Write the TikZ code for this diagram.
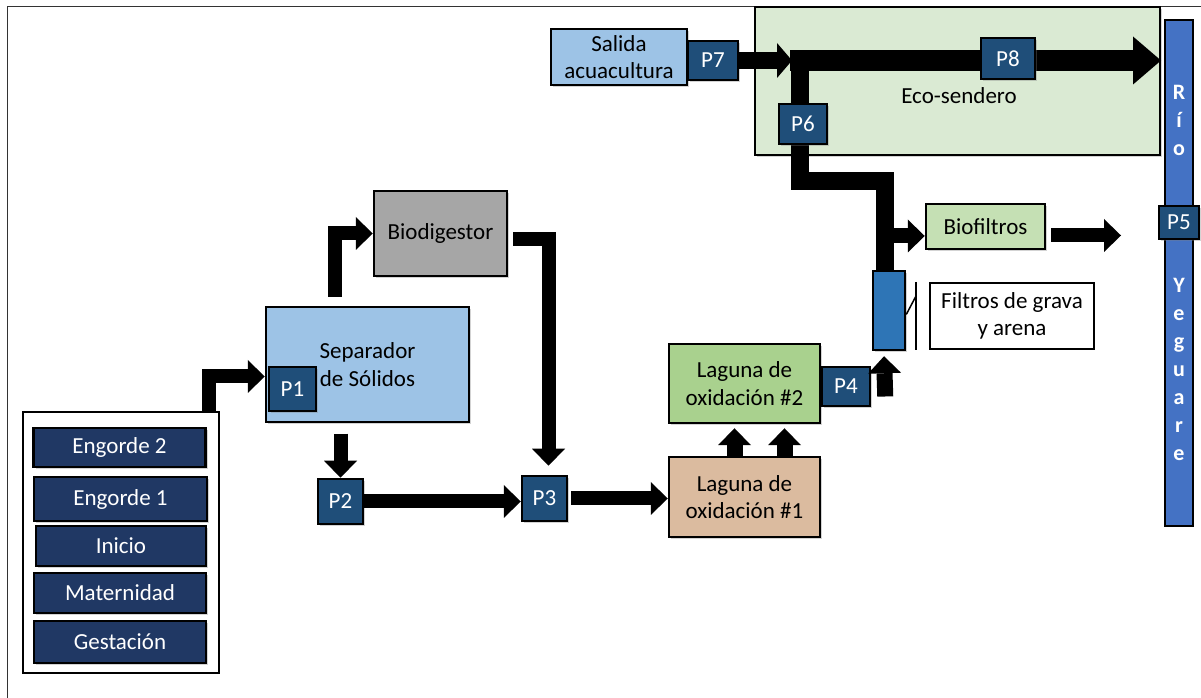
\documentclass[tikz,border=0pt]{standalone}
\usepackage{fontspec}
\setmainfont{Carlito}
\usetikzlibrary{arrows.meta,shadows}

\definecolor{navy}{HTML}{203864}
\definecolor{pazul}{HTML}{1F4E79}
\definecolor{celeste}{HTML}{9DC3E6}
\definecolor{gris}{HTML}{A6A6A6}
\definecolor{verde}{HTML}{A9D18E}
\definecolor{verdeclaro}{HTML}{C5E0B4}
\definecolor{verdeeco}{HTML}{DAEAD3}
\definecolor{cafe}{HTML}{DBBB9F}
\definecolor{azulfiltro}{HTML}{2E75B6}
\definecolor{azulrio}{HTML}{4472C4}

\begin{document}
\begin{tikzpicture}[x=1pt,y=1pt,
  every node/.style={font=\fontsize{23}{27.5}\selectfont,inner sep=0pt},
  caja/.style={draw,line width=2.5pt,align=center,drop shadow={shadow xshift=2pt,shadow yshift=-2pt,opacity=0.35}},
  etapa/.style={caja,fill=navy,text=white,minimum width=172pt},
  punto/.style={caja,fill=pazul,text=white},
  rioletra/.style={text=white,align=center,font=\bfseries\fontsize{22}{28}\selectfont},
  flecha/.style={line width=14pt,line join=miter,-{Triangle[length=17pt,width=33pt,line width=0pt]}},
  flechaM/.style={line width=17pt,-{Triangle[length=15pt,width=35pt,line width=0pt]}},
  flechaG/.style={line width=21pt,-{Triangle[length=28pt,width=48pt,line width=0pt]}},
  tubo/.style={line width=18pt,line join=miter}]
\useasboundingbox (0,0) rectangle (1201,698);
\draw[line width=1pt,black!80] (7,691) rectangle (1230,-30);

% zona eco-sendero y rio
\node[caja,fill=verdeeco,line width=2pt,minimum width=405pt,minimum height=148pt] (eco) at (957.5,617) {};
\node (ecotxt) at (959,602) {Eco-sendero};
\node[draw,line width=2pt,fill=azulrio,minimum width=28pt,minimum height=506pt] (rio) at (1179,425) {};
\node[rioletra] (rioA) at (1179,578) {R\\í\\o};
\node[rioletra] (rioB) at (1179,329) {Y\\e\\g\\u\\a\\r\\e};
\node[punto,minimum width=40pt,minimum height=33pt] (P5) at (1179,475.5) {P5};

% granja
\node[draw,line width=2pt,minimum width=196pt,minimum height=261pt] (granja) at (121,155.5) {};
\node[etapa,minimum height=39pt] (eng2) at (119.5,250.5) {Engorde 2};
\node[etapa,minimum width=173pt,minimum height=44pt] (eng1) at (120.5,199) {Engorde 1};
\node[etapa,minimum width=170pt,minimum height=40pt] (inicio) at (121,152) {Inicio};
\node[etapa,minimum height=40pt] (mater) at (120,105) {Maternidad};
\node[etapa,minimum height=42pt] (gesta) at (120,56) {Gestación};

% tratamiento
\node[caja,fill=celeste,minimum width=203pt,minimum height=115pt] (sep) at (367.5,333.5) {Separador\\de Sólidos};
\node[punto,minimum width=47pt,minimum height=44pt] (P1) at (292.5,309) {P1};
\node[caja,fill=gris,minimum width=133pt,minimum height=85pt] (bio) at (440.5,464.5) {Biodigestor};
\node[punto,minimum width=45pt,minimum height=45pt] (P2) at (340.5,196.5) {P2};
\node[punto,minimum width=45pt,minimum height=45pt] (P3) at (544.5,199.5) {P3};
\node[caja,fill=cafe,minimum width=151pt,minimum height=80pt] (lag1) at (744.5,201) {Laguna de\\oxidación \#1};
\node[caja,fill=verde,minimum width=151pt,minimum height=79pt] (lag2) at (744.5,314.5) {Laguna de\\oxidación \#2};
\node[punto,minimum width=48pt,minimum height=39pt] (P4) at (846,311.5) {P4};
\node[caja,fill=azulfiltro,minimum width=32pt,minimum height=79pt] (filtro) at (889,387.5) {};
\node[draw,line width=2pt,align=center,minimum width=164pt,minimum height=66pt] (filtxt) at (1012,382) {Filtros de grava\\y arena};
\node[caja,fill=verdeclaro,minimum width=119pt,minimum height=45pt] (biof) at (985.5,471.5) {Biofiltros};
\node[caja,fill=celeste,minimum width=136pt,minimum height=56pt] (salida) at (619,641) {Salida\\acuacultura};
\node[punto,minimum width=50pt,minimum height=39pt] (P7) at (713,637.5) {P7};

\coordinate (cruce) at (800,637.5);
\coordinate (codo) at (885,517);
\coordinate (rama) at (885,462);
\coordinate (haciaRio) at (1121,462.5);

% flujos
\draw[flecha] ([xshift=-11pt]granja.north east) |- ([yshift=-12pt]sep.west);
\draw[flecha] ([shift={(-33pt,9pt)}]sep.north) |- (bio.west);
\draw[flecha] ([yshift=44pt]P2.north) -- (P2.north);
\draw[flecha] (P2.east) -- (P2.east -| P3.west);
\draw[flecha] ([shift={(5pt,-6pt)}]bio.east) -| ([shift={(4pt,9pt)}]P3.north);
\draw[flecha] ([xshift=3pt]P3.east) -- (P3.east -| lag1.west);
\draw[flecha,line width=16pt] ([xshift=-10pt]lag1.north) -- ([xshift=-10pt,yshift=-4pt]lag2.south);
\draw[flecha,line width=16pt] ([xshift=40pt]lag1.north) -- ([xshift=40pt,yshift=-4pt]lag2.south);
\draw[flecha,line width=16pt] ([shift={(14pt,-10pt)}]P4.east) -- ([shift={(-5pt,-5pt)}]filtro.south);
\draw[line width=1.5pt] ([xshift=-13pt]filtxt.north west) -- ([xshift=-13pt]filtxt.south west);
\draw[line width=1.5pt] ([yshift=-4pt]filtro.east) -- ([shift={(-13pt,-14pt)}]filtxt.north west);
\draw[flechaM] (P7.east) -- ([xshift=-8pt]cruce);
\draw[flechaG] ([xshift=-10pt]cruce) -- (cruce -| eco.east);
\draw[tubo] (cruce) |- (codo) -- (codo |- filtro.north);
\draw[flecha,line width=15pt] (rama) -- (rama -| biof.west);
\draw[flecha] ([shift={(5pt,-9pt)}]biof.east) -- (haciaRio);

% puntos sobre el tubo
\node[punto,minimum width=54pt,minimum height=41pt] (P8) at (1008,639.5) {P8};
\node[punto,minimum width=48pt,minimum height=40pt] (P6) at (803,574) {P6};
\end{tikzpicture}
\end{document}
